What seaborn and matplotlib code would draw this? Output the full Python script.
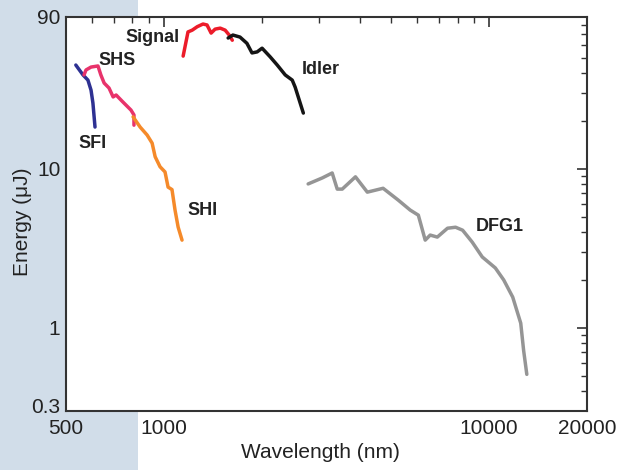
import matplotlib
matplotlib.use("Agg")
import matplotlib.pyplot as plt
import matplotlib.patches as mpatches
import matplotlib.transforms as mtransforms
from matplotlib.ticker import FixedLocator, NullFormatter
import seaborn as sns
import pandas as pd

# ---- data (wavelength nm, energy uJ) ----
sfi_x = [536, 564, 584, 597, 605, 614]
sfi_y = [44.9, 38.9, 36.1, 31.2, 25.9, 18.3]

shs_x = [568, 576, 597, 627, 640, 655, 678, 698, 713, 748, 792, 809, 809]
shs_y = [38.9, 41.8, 43.6, 44.3, 38.9, 34.6, 32.2, 28.3, 29.1, 26.3, 23.4, 21.8, 18.8]

shi_x = [804, 845, 888, 920, 940, 973, 1008, 1030, 1059, 1082, 1106, 1137]
shi_y = [21.2, 18.3, 16.3, 14.5, 11.9, 10.3, 9.55, 7.67, 7.4, 5.5, 4.3, 3.56]

signal_x = [1146, 1186, 1222, 1266, 1319, 1357, 1397, 1437, 1490, 1543, 1588, 1623]
signal_y = [51.1, 72.5, 74.4, 78.2, 81.3, 80.2, 71.3, 75.5, 76.6, 74.4, 69.3, 64.3]

idler_x = [1576, 1630, 1714, 1800, 1866, 1935, 2004, 2123, 2231, 2361, 2481, 2533, 2684]
idler_y = [66.4, 69.3, 67.3, 61.5, 53.5, 54.3, 57.3, 50.5, 44.9, 38.9, 36.1, 32.6, 22.4]

dfg_x = [2777, 3070, 3292, 3412, 3535, 3882, 4222, 4721, 5252, 5720, 6059, 6361, 6590,
         6930, 7450, 7886, 8290, 8872, 9526, 10450, 11090, 11820, 12510, 12770, 13060]
dfg_y = [8.03, 8.76, 9.41, 7.45, 7.45, 8.9, 7.13, 7.54, 6.36, 5.5, 5.11, 3.56, 3.83,
         3.72, 4.23, 4.29, 4.11, 3.46, 2.79, 2.38, 2.0, 1.56, 1.07, 0.72, 0.51]

series_names = ["SFI", "SHS", "SHI", "Signal", "Idler", "DFG1"]
series_colors = ["#2e3192", "#e8336b", "#f58a2a", "#ec1c2a", "#151515", "#959595"]

x_ticks = [500, 1000, 10000, 20000]
x_tick_labels = ["500", "1000", "10000", "20000"]
y_ticks = [0.3, 1, 10, 90]
y_tick_labels = ["0.3", "1", "10", "90"]

label_pos = {
    "Signal": (920, 67.3),
    "SHS": (716, 48.0),
    "SFI": (605, 14.5),
    "Idler": (3027, 41.8),
    "SHI": (1310, 5.5),
    "DFG1": (10800, 4.32),
}

# ---- build table ----
frames = []
for name, xs, ys in zip(series_names,
                        [sfi_x, shs_x, shi_x, signal_x, idler_x, dfg_x],
                        [sfi_y, shs_y, shi_y, signal_y, idler_y, dfg_y]):
    frames.append(pd.DataFrame({"wl": xs, "E": ys, "series": name, "order": range(len(xs))}))
df = pd.concat(frames, ignore_index=True)

sns.set_theme(style="white")
plt.rcParams["font.family"] = ["Liberation Sans", "DejaVu Sans"]

fig = plt.figure(figsize=(6.19, 4.70), dpi=100, facecolor="white")
# light blue strip on the left
fig.patches.append(mpatches.Rectangle((0, 0), 138 / 619, 1, transform=fig.transFigure,
                                      facecolor="#d1dde9", edgecolor="none", zorder=-10))
ax = fig.add_axes([66 / 619, 1 - 411 / 470, (587 - 66) / 619, (411 - 17) / 470])
ax.set_facecolor("white")

ax.set_xscale("log")
ax.set_yscale("log")

for name, col in zip(series_names, series_colors):
    sub = df[df["series"] == name]
    sns.lineplot(data=sub, x="wl", y="E", ax=ax, color=col, linewidth=2.5,
                 sort=False, estimator=None, legend=False)

ax.set_xlim(500, 20000)
ax.set_ylim(0.3, 90)

ax.xaxis.set_major_locator(FixedLocator(x_ticks))
ax.set_xticklabels(x_tick_labels)
ax.xaxis.set_minor_locator(FixedLocator([600, 700, 800, 900] + list(range(2000, 10000, 1000))))
ax.xaxis.set_minor_formatter(NullFormatter())
ax.yaxis.set_major_locator(FixedLocator(y_ticks))
ax.set_yticklabels(y_tick_labels)
ax.yaxis.set_minor_locator(FixedLocator([0.4, 0.5, 0.6, 0.7, 0.8, 0.9] +
                                        [2, 3, 4, 5, 6, 7, 8, 9] +
                                        [20, 30, 40, 50, 60, 70, 80]))
ax.yaxis.set_minor_formatter(NullFormatter())

ax.tick_params(which="both", direction="in", top=True, right=True, colors="#333333",
               labelcolor="#222222", labelsize=15)
ax.tick_params(which="major", length=7, width=1.2, pad=4)
ax.tick_params(which="minor", length=4, width=1.0)
ax.tick_params(axis="x", which="major", pad=6)

# nudge the bottom y label ("0.3") up slightly so it clears "500"
lbl = ax.get_yticklabels()[0]
lbl.set_transform(lbl.get_transform() +
                  mtransforms.ScaledTranslation(0, 4 / 72, fig.dpi_scale_trans))

for sp in ax.spines.values():
    sp.set_color("#333333")
    sp.set_linewidth(1.5)
    sp.set_visible(True)

ax.set_xlabel("Wavelength (nm)", fontsize=15, color="#222222")
ax.set_ylabel("Energy (μJ)", fontsize=15, color="#222222")
ax.xaxis.set_label_coords((320 - 66) / 521, -(453 - 411) / 394, transform=ax.transAxes)
ax.yaxis.set_label_coords(-(66 - 23) / 521, (411 - 222) / 394, transform=ax.transAxes)
ax.xaxis.label.set_va("center")
ax.yaxis.label.set_va("center")

for name, (lx, ly) in label_pos.items():
    ax.text(lx, ly, name, fontsize=13, fontweight="bold", color="#222222",
            ha="center", va="center")

fig.savefig("out.png", dpi=100, facecolor="white")
